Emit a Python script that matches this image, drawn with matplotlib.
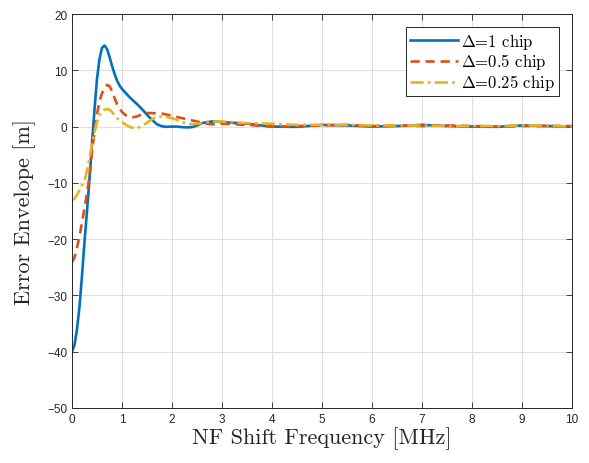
import matplotlib
matplotlib.use('Agg')
import matplotlib.pyplot as plt

plt.rcParams['mathtext.fontset'] = 'cm'
plt.rcParams['font.family'] = ['Liberation Sans', 'DejaVu Sans']

# frequency grid [MHz]
freq = [0, 0.05, 0.1, 0.15, 0.2, 0.25, 0.3, 0.35, 0.4, 0.45, 0.5,
        0.55, 0.6, 0.65, 0.7, 0.75, 0.8, 0.85, 0.9, 0.95, 1.0,
        1.1, 1.2, 1.3, 1.4, 1.5, 1.6, 1.7, 1.8, 1.9, 2.0,
        2.1, 2.2, 2.3, 2.4, 2.5, 2.6, 2.7, 2.8, 2.9, 3.0,
        3.5, 4.0, 4.5, 5.0, 5.5, 6.0, 6.5, 7.0, 7.5, 8.0, 8.5, 9.0, 9.5, 10.0]

# error envelope [m]
err_1 = [-40, -38.8, -36, -32, -26.5, -20.5, -15, -9.3, -3, 3, 8.5,
         12, 14, 14.4, 13.8, 12.4, 10.8, 9.4, 8.2, 7.3, 6.7,
         5.7, 4.8, 4, 3.1, 2.1, 1.2, 0.4, 0.05, -0.05, 0.0,
         0.0, -0.1, -0.15, -0.1, 0.2, 0.6, 0.8, 0.9, 0.9, 0.8,
         0.5, 0.0, -0.05, 0.3, 0.2, 0.0, 0.1, 0.3, 0.1, 0.0, -0.05, 0.2, 0.1, 0.0]
err_05 = [-24.1, -23.3, -21.5, -19.5, -17, -14.5, -11.8, -8.8, -4.5, -1.0, 2.2,
          4.5, 5.9, 6.9, 7.4, 7.2, 6.3, 5.1, 4.0, 3.2, 2.6,
          1.8, 1.6, 1.8, 2.2, 2.4, 2.4, 2.3, 2.3, 2.1, 1.9,
          1.7, 1.5, 1.3, 1.1, 0.9, 0.7, 0.5, 0.4, 0.4, 0.5,
          0.3, 0.0, 0.1, 0.2, 0.3, 0.1, 0.2, 0.1, 0.2, 0.1, 0.0, 0.1, 0.1, 0.1]
err_025 = [-13.1, -12.8, -12.1, -11.3, -10.4, -9.6, -7.8, -5.6, -3.2, -1.0, 0.8,
           2.0, 2.7, 3.0, 3.1, 3.0, 2.6, 2.0, 1.5, 1.1, 0.8,
           0.2, -0.2, -0.3, 0.1, 0.7, 1.3, 1.7, 1.8, 1.7, 1.5,
           1.2, 0.8, 0.5, 0.4, 0.5, 0.6, 0.8, 0.9, 0.9, 0.9,
           0.6, 0.5, 0.3, 0.3, 0.3, 0.2, 0.2, 0.2, 0.1, 0.1, 0.1, 0.2, 0.2, 0.0]

labels = [r'$\Delta$=1 chip', r'$\Delta$=0.5 chip', r'$\Delta$=0.25 chip']

fig = plt.figure(figsize=(5.89, 4.64), dpi=100)
ax = fig.add_axes([72/589, 1 - 409/464, 500/589, 394/464])

ax.plot(freq, err_1, color='#0072BD', lw=1.9, ls='-', label=labels[0])
ax.plot(freq, err_05, color='#D95319', lw=1.9, ls=(0, (3.5, 2.2)), label=labels[1])
ax.plot(freq, err_025, color='#EDB120', lw=1.9, ls=(0, (5, 1.6, 1, 1.6)), label=labels[2])

ax.set_xlim(0, 10)
ax.set_ylim(-50, 20)
ax.set_xticks(range(0, 11))
ax.set_yticks(range(-50, 21, 10))
ax.grid(True, color='#dfdfdf', lw=0.8)
ax.set_axisbelow(True)
ax.tick_params(direction='in', top=True, right=True, labelsize=8.5,
               colors='#262626', length=4, width=0.6)
for s in ax.spines.values():
    s.set_color('#262626')
    s.set_linewidth(0.7)

ax.set_xlabel('NF Shift Frequency [MHz]', fontfamily='cmr10', fontsize=16, color='#262626', labelpad=1)
ax.set_ylabel('Error Envelope [m]', fontfamily='cmr10', fontsize=16, color='#262626', labelpad=8)

leg = ax.legend(loc='upper right', prop={'family': 'cmr10', 'size': 12}, fancybox=False,
                framealpha=1, edgecolor='#262626', handlelength=2.9, handletextpad=0.2,
                borderpad=0.2, labelspacing=0.05, borderaxespad=0.8)
leg.get_frame().set_linewidth(0.7)

fig.savefig('out.png', dpi=100)
